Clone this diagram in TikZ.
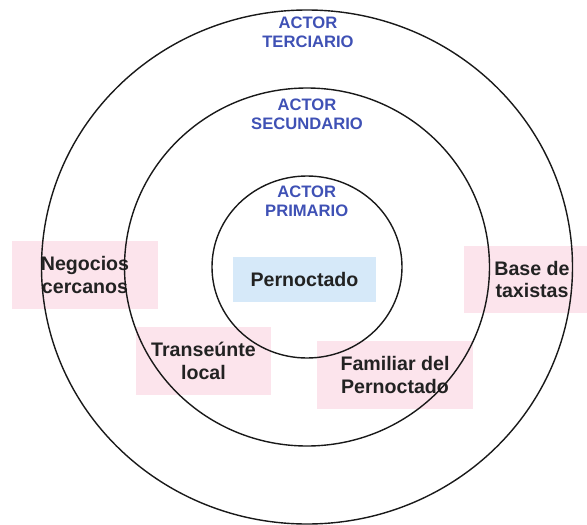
\documentclass[tikz,border=0pt]{standalone}
\usepackage{fontspec}
\setmainfont{Liberation Sans}
\definecolor{pinkbox}{HTML}{FCE4EC}
\definecolor{bluebox}{HTML}{D6E9F9}
\definecolor{actorblue}{HTML}{3F51B5}
\definecolor{txt}{HTML}{222222}
\tikzset{
  actorbox/.style={fill=pinkbox, inner sep=0pt, align=center, text=txt,
    font=\fontsize{19.6}{22.7}\selectfont\bfseries},
  corebox/.style={fill=bluebox, inner sep=0pt, align=center, text=txt,
    font=\fontsize{19.6}{22.7}\selectfont\bfseries},
  levellabel/.style={inner sep=0pt, align=center, text=actorblue,
    font=\fontsize{16.6}{19}\selectfont\bfseries},
  ring/.style={draw=black!90, line width=1.4pt}
}
\begin{document}
\begin{tikzpicture}[x=1pt,y=-1pt]
\useasboundingbox (0,0) rectangle (587,525);
\node[actorbox, minimum width=146pt, minimum height=68pt] (neg) at (85,275) {Negocios\\cercanos};
\node[actorbox, minimum width=136pt, minimum height=67pt] (base) at (532,279.5) {Base de\\taxistas};
\node[actorbox, minimum width=135pt, minimum height=68pt] (tran) at (203.5,361) {Transeúnte\\local};
\node[actorbox, minimum width=156pt, minimum height=68pt] (fam) at (395,375) {Familiar del\\Pernoctado};
\node[corebox, minimum width=143pt, minimum height=45pt] (per) at (304.5,279.5) {Pernoctado};
\coordinate (c) at (307,267);
\draw[ring] (c) ellipse [x radius=95, y radius=91];
\draw[ring] (c) ellipse [x radius=182.5, y radius=179];
\draw[ring] (c) ellipse [x radius=265.5, y radius=257];
\node[levellabel] (ter) at (308,32.2) {ACTOR\\TERCIARIO};
\node[levellabel] (sec) at (307,114.7) {ACTOR\\SECUNDARIO};
\node[levellabel] (pri) at (306.7,201.2) {ACTOR\\PRIMARIO};
\end{tikzpicture}
\end{document}
